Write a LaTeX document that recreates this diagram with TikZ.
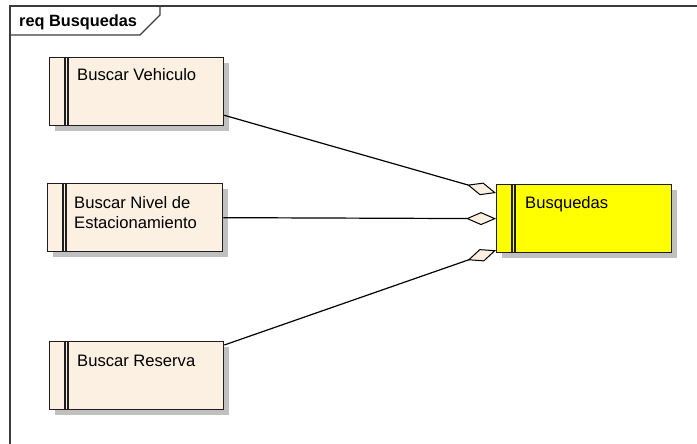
\documentclass[tikz,border=0pt]{standalone}
\usepackage{fontspec}
\setmainfont{Liberation Sans}
\usetikzlibrary{arrows.meta,calc,shadows}
\definecolor{ucfill}{RGB}{251,240,225}
\definecolor{ucyellow}{RGB}{255,255,0}
\definecolor{ucshadow}{RGB}{192,192,192}
\definecolor{ucline}{RGB}{30,30,30}
\definecolor{framegray}{RGB}{60,60,60}
\tikzset{
  reqbox/.style={draw=ucline, line width=1.3pt, fill=ucfill, anchor=north west,
    minimum width=174pt, minimum height=68pt, inner sep=0pt,
    drop shadow={shadow xshift=5pt, shadow yshift=-5pt, fill=ucshadow, opacity=1}},
  bar/.style={draw=ucline, line width=1.1pt},
  lbl/.style={anchor=base west, inner sep=0pt, font=\fontsize{16.6}{20}\selectfont, align=left},
  agg/.style={draw=black, line width=1.2pt,
    -{Diamond[length=30pt, width=13pt, fill=ucfill, line width=1pt]}},
  frameline/.style={draw=framegray, line width=1.3pt},
}
\newcommand{\reqbars}[1]{%
  \draw[bar] ([xshift=16pt]#1.north west) -- ([xshift=16pt]#1.south west);
  \draw[bar] ([xshift=19pt]#1.north west) -- ([xshift=19pt]#1.south west);}
\begin{document}
\begin{tikzpicture}[x=1pt, y=-1pt]
\useasboundingbox (0,0) rectangle (697,444);
\fill[white] (0,0) rectangle (697,444);

% diagram frame with its name tab
\coordinate (ftl) at (10,6);
\coordinate (ftr) at (697,6);
\coordinate (fbl) at (10,444);
\draw[frameline] (ftr) -- (ftl) -- (fbl);
\draw[frameline] (10,35) -- (140,35) -- (160,15) -- (160,6);
\node[anchor=base west, inner sep=0pt, font=\fontsize{16.3}{20}\selectfont\bfseries] (title) at (19,27) {req Busquedas};

% requirement boxes
\node[reqbox] (veh) at (49,57) {};
\node[reqbox, minimum width=175pt] (niv) at (47,183) {};
\node[reqbox] (res) at (49,341) {};
\node[reqbox, fill=ucyellow, minimum width=175pt] (bus) at (496,184) {};
\reqbars{veh}
\reqbars{niv}
\reqbars{res}
\reqbars{bus}

\node[lbl] (tveh) at (77,81) {Buscar Vehiculo};
\node[lbl] (tniv) at (74,228) {Buscar Nivel de\\Estacionamiento};
\node[lbl] (tres) at (77,366) {Buscar Reserva};
\node[lbl] (tbus) at (525,208) {Busquedas};

% aggregation connectors
\draw[agg] ($(veh.south east)+(0,-11)$) -- ($(bus.north west)+(0,9)$);
\draw[agg] (niv.east) -- (bus.west);
\draw[agg] ($(res.north east)+(0,4)$) -- ($(bus.south west)+(0,-3)$);
\end{tikzpicture}
\end{document}
